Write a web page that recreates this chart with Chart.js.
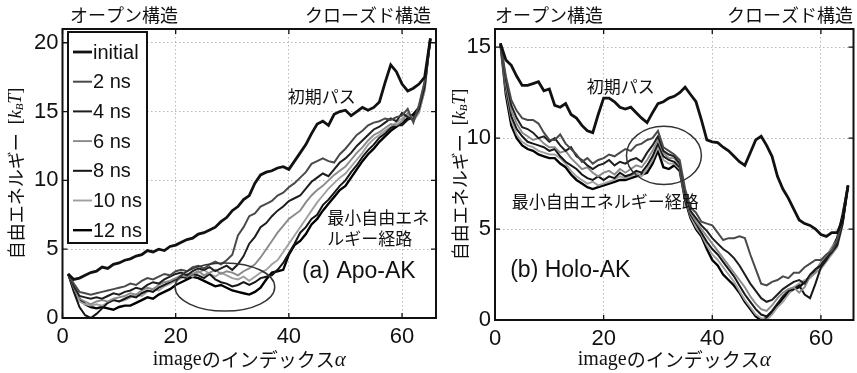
<!DOCTYPE html>
<html>
<head>
<meta charset="utf-8">
<script src="https://cdn.jsdelivr.net/npm/chart.js@4.4.0/dist/chart.umd.min.js"></script>
<style>
body { margin: 0; background: #fff; }
#wrap { position: relative; width: 857px; height: 373px; overflow: hidden; }
#apo { position: absolute; left: 0; top: 0; }
#holo { position: absolute; left: 438px; top: 0; }
</style>
</head>
<body>
<div id="wrap">
<canvas id="apo" width="440" height="373"></canvas>
<canvas id="holo" width="419" height="373"></canvas>
</div>
<script>
// image index (alpha) along the path
var imageIndex = [1,2,3,4,5,6,7,8,9,10,11,12,13,14,15,16,17,18,19,20,
	21,22,23,24,25,26,27,28,29,30,31,32,33,34,35,36,37,38,39,40,
	41,42,43,44,45,46,47,48,49,50,51,52,53,54,55,56,57,58,59,60,
	61,62,63,64,65];

var xTicks = [0, 20, 40, 60];
var apoYTicks = [0, 5, 10, 15, 20];
var holoYTicks = [0, 5, 10, 15];
var seriesNames = ["initial", "2 ns", "4 ns", "6 ns", "8 ns", "10 ns", "12 ns"];

// (a) Apo-AK, free energy [kBT]
var apoInitial = [3.2,2.8,2.9,3.1,3.3,3.4,3.7,3.6,3.9,4.0,
	4.2,4.3,4.5,4.6,4.9,4.8,5.0,4.9,5.2,5.3,
	5.5,5.7,5.8,6.1,6.2,6.4,6.6,7.0,7.3,7.8,
	8.1,8.6,8.9,9.8,10.4,10.6,10.7,10.9,11.0,10.8,
	11.4,12.0,12.6,13.4,14.1,14.3,14.0,14.8,15.0,15.1,
	14.7,15.0,15.3,15.1,15.3,15.7,17.1,18.4,17.9,17.0,
	16.5,16.7,17.0,17.5,20.3];
var apo2ns = [3.2,2.5,1.9,1.8,1.7,1.8,1.9,2.0,2.1,2.2,
	2.3,2.5,2.4,2.7,2.9,2.8,3.0,3.2,3.1,3.4,
	3.5,3.4,3.7,3.8,3.6,3.9,4.1,3.9,4.2,4.6,
	6.0,6.6,7.4,7.6,8.1,8.3,8.5,8.9,9.1,9.5,
	9.8,10.2,10.6,11.2,11.4,11.6,11.4,11.3,11.9,12.3,
	12.8,13.3,13.6,14.0,14.2,14.3,14.5,14.4,14.6,14.7,
	15.2,14.2,15.5,17.2,20.3];
var apo4ns = [3.2,2.3,1.6,1.5,1.4,1.5,1.4,1.6,1.8,1.7,
	1.9,2.0,2.2,2.1,2.4,2.6,2.5,2.8,3.0,3.2,
	3.3,3.1,3.4,3.6,3.5,3.7,3.4,3.6,3.8,3.5,
	3.9,4.5,5.4,5.9,6.6,6.9,7.4,7.8,8.1,8.5,
	8.7,8.9,9.4,9.9,10.2,10.5,10.3,10.8,11.3,11.6,
	12.0,12.5,12.9,13.3,13.7,13.9,14.2,14.5,14.3,14.9,
	14.6,14.4,15.2,16.8,20.3];
var apo6ns = [3.2,2.2,1.4,1.2,1.0,1.2,1.3,1.2,1.4,1.5,
	1.6,1.8,1.7,2.0,2.2,2.1,2.4,2.6,2.7,2.9,
	3.1,3.0,3.2,3.4,3.1,3.3,3.5,3.2,3.4,3.3,
	3.1,3.4,3.6,3.9,4.4,5.0,5.6,6.2,6.7,7.2,
	7.5,7.8,8.4,8.9,9.3,9.6,10.0,10.4,10.7,11.0,
	11.5,12.0,12.4,12.9,13.3,13.5,13.8,14.1,14.0,14.3,
	14.9,14.5,15.0,16.5,20.3];
var apo8ns = [3.2,1.9,0.8,0.2,0.0,0.3,0.7,1.1,1.3,1.2,
	1.4,1.6,1.5,1.8,2.0,1.9,2.2,2.4,2.6,2.8,
	3.0,2.9,3.2,3.1,2.9,3.2,2.8,2.6,2.5,2.3,
	2.4,2.6,2.4,2.6,2.9,3.0,3.1,3.5,4.0,4.7,
	5.4,6.2,6.6,7.2,7.5,8.2,8.6,9.1,9.6,10.0,
	10.6,11.1,11.7,12.2,12.6,13.1,13.4,13.8,14.0,14.0,
	14.4,14.6,15.2,16.9,20.3];
var apo10ns = [3.2,2.0,1.2,1.0,0.9,1.0,0.9,1.1,1.3,1.2,
	1.3,1.5,1.7,1.6,1.9,2.1,2.0,2.3,2.5,2.7,
	2.9,3.2,3.0,3.3,3.5,3.2,3.0,3.3,3.1,2.9,
	2.8,3.0,2.7,3.0,3.3,3.5,3.9,4.2,4.8,5.4,
	6.0,6.6,7.2,7.8,8.4,8.9,9.4,9.8,10.2,10.5,
	11.0,11.5,12.0,12.6,13.0,13.3,13.6,13.9,14.2,14.5,
	14.8,14.3,14.9,16.6,20.3];
var apo12ns = [3.2,2.2,1.4,1.0,0.8,0.7,0.8,0.7,0.6,0.8,
	0.9,0.9,1.1,1.3,1.5,1.4,1.7,1.9,2.1,2.4,
	2.6,2.8,3.0,2.9,2.7,2.5,2.3,2.4,2.2,2.0,
	1.9,1.8,1.7,1.9,2.2,2.8,3.3,3.4,3.5,4.6,
	5.3,5.6,6.1,6.8,7.2,7.8,8.3,8.8,9.3,9.6,
	10.2,10.8,11.4,11.9,12.3,12.8,13.2,13.6,13.9,14.2,
	14.5,14.8,15.3,17.0,20.3];

// (b) Holo-AK, free energy [kBT]
var holoInitial = [15.2,14.3,14.0,13.4,12.9,12.9,13.0,13.1,12.6,12.7,
	11.8,11.7,11.9,11.3,11.1,10.7,10.4,10.3,11.3,12.2,
	12.2,12.0,11.7,11.6,11.7,11.4,11.1,10.85,11.4,11.9,
	12.0,12.2,12.3,12.5,12.8,12.4,12.0,11.0,9.9,9.8,
	9.75,9.5,9.3,9.0,8.7,8.5,9.2,9.9,10.1,9.6,
	9.0,7.9,7.2,6.7,6.1,5.5,5.3,5.2,5.0,4.7,
	4.6,4.8,4.8,5.5,7.4];
var holo2ns = [15.2,13.4,12.1,11.5,11.1,11.0,11.0,10.8,10.3,9.9,
	9.9,10.2,9.7,9.4,9.1,8.7,8.9,8.6,8.8,8.9,
	9.1,9.0,9.2,9.4,9.3,9.6,9.7,9.9,10.0,10.4,
	9.5,9.3,9.1,8.8,7.2,6.2,5.9,5.4,5.3,5.2,
	4.8,4.4,4.5,4.5,4.6,4.5,3.6,2.8,2.0,1.9,
	2.1,2.2,2.4,2.3,2.6,2.6,2.9,3.1,3.3,3.3,
	3.6,3.8,4.4,5.5,7.4];
var holo4ns = [15.2,13.2,11.8,11.1,10.6,10.5,10.3,10.0,10.1,9.8,
	10.0,9.6,9.3,9.5,9.0,8.8,8.5,8.3,8.5,8.6,
	8.8,8.5,8.7,8.6,8.8,8.9,8.7,9.2,9.6,10.1,
	9.3,9.1,9.0,8.6,7.0,6.0,5.6,5.2,4.9,4.5,
	4.2,3.9,3.7,3.4,3.0,2.5,2.0,1.6,1.2,1.0,
	1.1,1.4,1.7,1.9,2.1,2.2,2.0,2.5,2.8,3.0,
	3.4,3.7,4.1,5.3,7.4];
var holo6ns = [15.2,13.0,11.5,10.8,10.3,10.1,9.9,10.0,9.7,9.5,
	9.5,9.2,9.3,8.9,8.6,8.3,8.4,8.1,7.9,8.1,
	8.2,8.0,8.3,8.1,8.3,8.5,8.4,8.8,9.3,9.9,
	9.2,8.9,8.9,8.5,6.9,5.9,5.4,5.0,4.6,4.2,
	3.8,3.4,3.0,2.6,2.2,1.8,1.3,0.9,0.6,0.5,
	0.8,1.2,1.5,1.7,1.8,1.5,1.8,2.4,2.6,3.2,
	3.5,4.0,4.4,5.6,7.4];
var holo8ns = [15.2,12.8,11.2,10.5,10.1,9.8,9.7,9.6,9.5,9.3,
	9.4,9.0,8.7,8.5,8.3,8.0,7.8,7.7,7.9,7.7,
	7.9,7.8,8.1,7.9,8.0,8.2,8.1,8.5,9.0,9.7,
	9.0,8.8,8.7,8.4,6.8,5.8,5.3,4.8,4.3,3.9,
	3.6,3.2,2.8,2.4,1.9,1.4,1.0,0.6,0.3,0.2,
	0.5,0.9,1.3,1.6,1.7,1.9,1.4,1.2,2.0,2.9,
	3.3,3.8,4.2,5.4,7.4];
var holo10ns = [15.2,12.6,11.0,10.2,9.8,9.6,9.5,9.3,9.2,9.1,
	9.1,8.9,8.6,8.2,7.9,7.7,7.5,7.6,7.4,7.5,
	7.6,7.7,7.9,7.8,7.9,8.1,7.9,8.3,8.8,9.5,
	8.8,8.6,8.6,8.3,6.7,5.7,5.1,4.7,4.1,3.6,
	3.3,2.9,2.5,2.1,1.6,1.1,0.7,0.3,0.1,0.0,
	0.3,0.7,1.0,1.4,1.8,2.0,2.2,2.3,2.6,2.8,
	3.2,3.6,4.0,5.2,7.4];
var holo12ns = [15.2,12.4,10.7,10.0,9.6,9.4,9.3,9.1,9.0,8.9,
	8.9,8.6,8.4,8.0,7.7,7.5,7.3,7.2,7.3,7.4,
	7.5,7.6,7.7,7.7,7.8,7.9,8.0,8.1,8.6,9.3,
	8.4,8.3,8.5,8.2,6.6,5.6,5.0,4.6,3.9,3.3,
	3.0,2.5,2.2,1.9,1.5,1.0,0.6,0.2,0.0,0.1,
	0.4,0.8,1.2,1.5,1.7,1.8,2.1,2.4,2.7,3.1,
	3.4,3.9,4.5,5.8,7.4];

var lineColors = ["#111111", "#4a4a4a", "#1e1e1e", "#8a8a8a", "#151515", "#a0a0a0", "#000000"];
var lineWidths = [2.8, 2.0, 2.0, 1.9, 2.0, 1.9, 2.4];

var jpFont = '"Noto Sans CJK JP", "Noto Sans", sans-serif';
var numFont = '"Liberation Sans", Arial, sans-serif';
var serifFont = '"Liberation Serif", "Times New Roman", serif';

function makeDatasets(list) {
	var ds = [];
	for (var i = 0; i < list.length; i++) {
		ds.push({
			label: seriesNames[i],
			data: list[i],
			borderColor: lineColors[i],
			borderWidth: lineWidths[i],
			pointRadius: 0,
			tension: 0,
			fill: false
		});
	}
	return ds;
}

function drawParts(ctx, parts, x, y) {
	// measure then draw centred on x
	var total = 0;
	for (var i = 0; i < parts.length; i++) {
		ctx.font = parts[i].f;
		total += ctx.measureText(parts[i].t).width;
	}
	var cx = x - total / 2;
	for (var j = 0; j < parts.length; j++) {
		ctx.font = parts[j].f;
		ctx.fillText(parts[j].t, cx, y + (parts[j].dy || 0));
		cx += ctx.measureText(parts[j].t).width;
	}
}

var panelDecor = {
	id: "panelDecor",
	afterDatasetsDraw: function(chart, args, o) {
		var ctx = chart.ctx, a = chart.chartArea;
		var xs = chart.scales.x, ys = chart.scales.y;
		ctx.save();

		// frame + inward ticks
		ctx.strokeStyle = "#111";
		ctx.lineWidth = 2;
		ctx.strokeRect(a.left, a.top, a.right - a.left, a.bottom - a.top);
		ctx.lineWidth = 1.3;
		ctx.beginPath();
		xTicks.forEach(function(v) {
			var px = xs.getPixelForValue(v);
			ctx.moveTo(px, a.bottom); ctx.lineTo(px, a.bottom - 5);
			ctx.moveTo(px, a.top); ctx.lineTo(px, a.top + 5);
		});
		o.yTicks.forEach(function(v) {
			var py = ys.getPixelForValue(v);
			ctx.moveTo(a.left, py); ctx.lineTo(a.left + 5, py);
			ctx.moveTo(a.right, py); ctx.lineTo(a.right - 5, py);
		});
		ctx.stroke();

		// ellipse around the region of interest
		var e = o.ellipse;
		var ex = xs.getPixelForValue(e.x), ey = ys.getPixelForValue(e.y);
		var rx = Math.abs(xs.getPixelForValue(e.x + e.rx) - ex);
		var ry = Math.abs(ys.getPixelForValue(e.y + e.ry) - ey);
		ctx.strokeStyle = "#333";
		ctx.lineWidth = 1.5;
		ctx.beginPath();
		ctx.ellipse(ex, ey, rx, ry, 0, 0, Math.PI * 2);
		ctx.stroke();

		// annotations inside the plot
		ctx.fillStyle = "#111";
		ctx.textBaseline = "middle";
		ctx.textAlign = "left";
		o.notes.forEach(function(n) {
			ctx.font = n.size + "px " + (n.jp ? jpFont : numFont);
			ctx.fillText(n.text, xs.getPixelForValue(n.x), ys.getPixelForValue(n.y));
		});

		// labels above the plot
		ctx.font = "18px " + jpFont;
		ctx.textAlign = "left";
		ctx.fillText("オープン構造", o.openX, 15);
		ctx.textAlign = "right";
		ctx.fillText("クローズド構造", o.closedX, 15);

		// x title
		ctx.textAlign = "left";
		drawParts(ctx, [
			{ t: "image", f: "20px " + serifFont },
			{ t: "のインデックス", f: "19px " + jpFont },
			{ t: "α", f: "italic 21px " + serifFont }
		], (a.left + a.right) / 2, 360);

		// y title, rotated
		ctx.save();
		ctx.translate(o.yTitleX, (a.top + a.bottom) / 2);
		ctx.rotate(-Math.PI / 2);
		drawParts(ctx, [
			{ t: "自由エネルギー", f: "18px " + jpFont },
			{ t: "  [", f: "18px " + serifFont },
			{ t: "k", f: "italic 18px " + serifFont },
			{ t: "B", f: "italic 11px " + serifFont, dy: 4 },
			{ t: "T", f: "italic 18px " + serifFont },
			{ t: "]", f: "18px " + serifFont }
		], 0, 0);
		ctx.restore();

		// legend box
		if (o.legend) {
			var L = o.legend;
			ctx.fillStyle = "#fff";
			ctx.fillRect(L.x, L.y, L.w, L.h);
			ctx.strokeStyle = "#111";
			ctx.lineWidth = 2;
			ctx.strokeRect(L.x, L.y, L.w, L.h);
			ctx.font = "20px " + numFont;
			ctx.textAlign = "left";
			chart.data.datasets.forEach(function(d, i) {
				var y = L.y + L.first + i * L.step;
				ctx.strokeStyle = d.borderColor;
				ctx.lineWidth = Math.max(1.8, d.borderWidth);
				ctx.beginPath();
				ctx.moveTo(L.x + 5, y); ctx.lineTo(L.x + 24, y);
				ctx.stroke();
				ctx.fillStyle = "#111";
				ctx.fillText(d.label, L.x + 25, y + 1);
			});
		}
		ctx.restore();
	}
};

function makeChart(canvasId, list, yMax, yTicks, axisW, axisH, padRight, decor) {
	return new Chart(document.getElementById(canvasId), {
		type: "line",
		data: { labels: imageIndex, datasets: makeDatasets(list) },
		options: {
			responsive: false,
			animation: false,
			devicePixelRatio: 1,
			layout: { padding: { top: 29, right: padRight, left: 0, bottom: 0 } },
			plugins: {
				legend: { display: false },
				tooltip: { enabled: false },
				panelDecor: decor
			},
			scales: {
				x: {
					type: "linear",
					min: 0, max: 66,
					afterBuildTicks: function(s) { s.ticks = xTicks.map(function(v) { return { value: v }; }); },
					afterFit: function(s) { s.height = axisH; },
					grid: { color: "#b8b8b8", lineWidth: 1, drawTicks: false },
					border: { display: false, dash: [1.5, 2.5] },
					ticks: { padding: 6, color: "#111", font: { family: numFont, size: 22 } }
				},
				y: {
					min: 0, max: yMax,
					afterBuildTicks: function(s) { s.ticks = yTicks.map(function(v) { return { value: v }; }); },
					afterFit: function(s) { s.width = axisW; },
					grid: { color: "#b8b8b8", lineWidth: 1, drawTicks: false },
					border: { display: false, dash: [1.5, 2.5] },
					ticks: { padding: 4, color: "#111", font: { family: numFont, size: 22 } }
				}
			}
		},
		plugins: [panelDecor]
	});
}

makeChart("apo",
	[apoInitial, apo2ns, apo4ns, apo6ns, apo8ns, apo10ns, apo12ns],
	21, apoYTicks, 62.5, 55, 4,
	{
		yTicks: apoYTicks,
		openX: 70, closedX: 431, yTitleX: 16,
		ellipse: { x: 28.7, y: 2.25, rx: 8.8, ry: 1.75 },
		notes: [
			{ text: "初期パス", x: 39.8, y: 16.1, size: 17, jp: true },
			{ text: "最小自由エネ", x: 46.8, y: 7.3, size: 17, jp: true },
			{ text: "ルギー経路", x: 46.8, y: 5.75, size: 17, jp: true },
			{ text: "(a) Apo-AK", x: 42.3, y: 3.35, size: 23, jp: false }
		],
		legend: { x: 68, y: 32, w: 79, h: 211, first: 20, step: 29.7 }
	});

makeChart("holo",
	[holoInitial, holo2ns, holo4ns, holo6ns, holo8ns, holo10ns, holo12ns],
	16, holoYTicks, 57, 53, 3.5,
	{
		yTicks: holoYTicks,
		openX: 57, closedX: 415, yTitleX: 22,
		ellipse: { x: 31.1, y: 9.05, rx: 6.9, ry: 1.6 },
		notes: [
			{ text: "初期パス", x: 16.9, y: 12.85, size: 17, jp: true },
			{ text: "最小自由エネルギー経路", x: 3.1, y: 6.5, size: 17, jp: true },
			{ text: "(b) Holo-AK", x: 2.8, y: 2.7, size: 23, jp: false }
		],
		legend: null
	});
</script>
</body>
</html>
